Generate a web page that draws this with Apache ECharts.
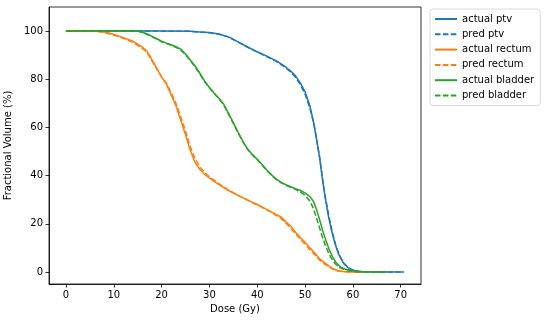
<!DOCTYPE html>
<html>
<head>
<meta charset="utf-8">
<script src="https://cdn.jsdelivr.net/npm/echarts@6/dist/echarts.min.js"></script>
<style>
  html, body { margin: 0; padding: 0; background: #fff; }
  #main { width: 550px; height: 323px; }
</style>
</head>
<body>
<div id="main"></div>
<script>
// dose (Gy) / fractional volume (%) pairs
var ptvActual = [[0,100],[20,100],[26,99.9],[28,99.6],[30,99.4],[32,98.8],[34,97.6],[36,95.5],[38,93.4],[40,91.4],[42,89.6],[44,87.6],[46,85],[47,83.4],[48,81.4],[49,78.5],[50,74.8],[51,69],[51.8,62],[52.4,55],[53,48],[53.6,39],[54.2,31],[54.8,24],[55.5,17.5],[56.3,11.5],[57,7.5],[58,3.8],[59,1.8],[60,0.8],[61,0.3],[62,0.1],[70.7,0]];
var ptvPred = [[0,100],[20,100],[26,99.9],[28,99.6],[30,99.3],[32,98.7],[34,97.5],[36,95.4],[38,93.3],[40,91.3],[42,89.4],[44,87.4],[46,84.7],[47,83],[48,80.8],[49,77.8],[50,73.8],[51,68],[51.9,61],[52.5,54],[53.1,47],[53.7,38],[54.3,30.5],[55,23],[55.7,16.5],[56.5,10.5],[57.3,6.5],[58.2,3.2],[59.2,1.4],[60.2,0.6],[61.5,0.2],[63,0],[70.5,0]];
var rectumActual = [[0,100],[6,100],[8,99.6],[10,98.7],[12,97.3],[14,95.8],[16,93.3],[17,91.5],[18,88],[19,84.5],[20,81],[21,78],[22,73.5],[23,69],[24,63],[25,57],[26,50.5],[27,45.5],[28,42.5],[29,40.5],[30,39],[32,36.3],[34,33.8],[36,31.8],[38,29.8],[40,28],[42,26],[44,23.8],[45,22.8],[46,20.8],[47,19],[48,16.5],[49,14.3],[50,12.3],[51,10],[52,8],[53,5.5],[54,4],[55,2.4],[56,1.2],[57,0.5],[58,0.2],[60,0],[62,0]];
var rectumPred = [[0,100],[6,100],[8,99.4],[10,98.4],[12,97],[14,95.3],[16,92.8],[17,91],[18,87.5],[19,84.2],[20,81],[21,78.5],[22,74.5],[23,70],[24,64.5],[25,58.5],[26,52],[27,47],[28,43.5],[29,41.3],[30,39.5],[32,36.6],[34,34],[36,31.8],[38,29.8],[40,27.8],[42,25.8],[44,23.4],[45,22.2],[46,20.2],[47,18.2],[48,15.8],[49,13.6],[50,11.5],[51,9.2],[52,7.2],[53,5],[54,3.4],[55,2],[56,1],[57,0.4],[58,0.1],[60,0],[62,0]];
var bladderActual = [[0,100],[15,100],[16,99.5],[17,98.8],[18,97.8],[19,96.8],[20,95.8],[21,95],[22,94.3],[23,93.5],[24,92.5],[25,90.5],[26,88],[27,85.5],[28,82.5],[29,79.2],[30,76.6],[31,74.2],[32,72.1],[33,69.6],[34,65.8],[35,62],[36,58],[37,54.2],[38,51],[39,48.7],[40,46.8],[41,44.6],[42,42.3],[43,40.3],[44,38.5],[45,37.2],[46,36.2],[47,35.4],[48,34.6],[49,33.8],[50,32.8],[51,31.3],[51.7,29.5],[52.3,26.5],[53,22],[53.7,17],[54.4,12.8],[55,9.5],[55.7,6.5],[56.5,3.8],[57.4,2.1],[58.5,1.1],[59.5,0.6],[61,0.2],[62,0.1],[67,0]];
var bladderPred = [[0,100],[15,100],[16,99.4],[17,98.6],[18,97.6],[19,96.6],[20,95.6],[21,94.8],[22,94.1],[23,93.3],[24,92.2],[25,90.2],[26,87.8],[27,85.2],[28,82.2],[29,79],[30,76.4],[31,74],[32,71.9],[33,69.3],[34,65.5],[35,61.7],[36,57.8],[37,54],[38,50.8],[39,48.5],[40,46.6],[41,44.4],[42,42.1],[43,40.1],[44,38.3],[45,37],[46,36],[47,35.1],[48,34.3],[49,33.2],[50,31.8],[51,29.5],[51.7,26.5],[52.3,23],[53,18.5],[53.7,14],[54.4,10.2],[55,7.5],[55.7,5],[56.5,3],[57.4,1.6],[58.5,0.8],[59.5,0.4],[61,0.1],[67,0]];

var xTicks = [0, 10, 20, 30, 40, 50, 60, 70];
var yTicks = [0, 20, 40, 60, 80, 100];

var blue = '#1f77b4', orange = '#ff7f0e', green = '#2ca02c';
var font = 'DejaVu Sans';

function line(name, data, color, dashed) {
    return {
        name: name,
        type: 'line',
        data: data,
        symbol: 'none',
        animation: false,
        lineStyle: { color: color, width: 1.5, type: dashed ? [5.5, 2.4] : 'solid' },
        itemStyle: { color: color }
    };
}

var chart = echarts.init(document.getElementById('main'));
chart.setOption({
    backgroundColor: '#fff',
    animation: false,
    grid: {
        left: 49, right: 129, top: 7, bottom: 39,
        outerBoundsMode: 'none', containLabel: false,
        show: true, borderColor: '#000', borderWidth: 0.8, backgroundColor: 'transparent'
    },
    legend: {
        orient: 'vertical',
        left: 430, top: 9,
        padding: [4, 6, 4, 4],
        borderColor: '#d0d0d0', borderWidth: 0.8, borderRadius: 3,
        itemWidth: 22, itemHeight: 10, itemGap: 3.3,
        itemStyle: { opacity: 0 },
        textStyle: { fontFamily: font, fontSize: 10, color: '#000', lineHeight: 12 },
        data: ['actual ptv', 'pred ptv', 'actual rectum', 'pred rectum', 'actual bladder', 'pred bladder']
    },
    xAxis: {
        type: 'value', min: -3.54, max: 74.24,
        name: 'Dose (Gy)', nameLocation: 'middle', nameGap: 20,
        nameTextStyle: { fontFamily: font, fontSize: 10, color: '#000' },
        axisLine: { onZero: false, lineStyle: { color: '#000', width: 0.8 } },
        axisTick: { show: true, length: 3.5, lineStyle: { color: '#000', width: 0.8 }, customValues: xTicks },
        axisLabel: { fontFamily: font, fontSize: 10, color: '#000', margin: 6, customValues: xTicks },
        splitLine: { show: false }
    },
    yAxis: {
        type: 'value', min: -5, max: 110,
        name: 'Fractional Volume (%)', nameLocation: 'middle', nameGap: 32,
        nameTextStyle: { fontFamily: font, fontSize: 10, color: '#000' },
        axisLine: { show: true, onZero: false, lineStyle: { color: '#000', width: 0.8 } },
        axisTick: { show: true, length: 3.5, lineStyle: { color: '#000', width: 0.8 }, customValues: yTicks },
        axisLabel: { fontFamily: font, fontSize: 10, color: '#000', margin: 6, customValues: yTicks },
        splitLine: { show: false }
    },
    series: [
        line('actual ptv', ptvActual, blue, false),
        line('pred ptv', ptvPred, blue, true),
        line('actual rectum', rectumActual, orange, false),
        line('pred rectum', rectumPred, orange, true),
        line('actual bladder', bladderActual, green, false),
        line('pred bladder', bladderPred, green, true)
    ]
});
</script>
</body>
</html>
